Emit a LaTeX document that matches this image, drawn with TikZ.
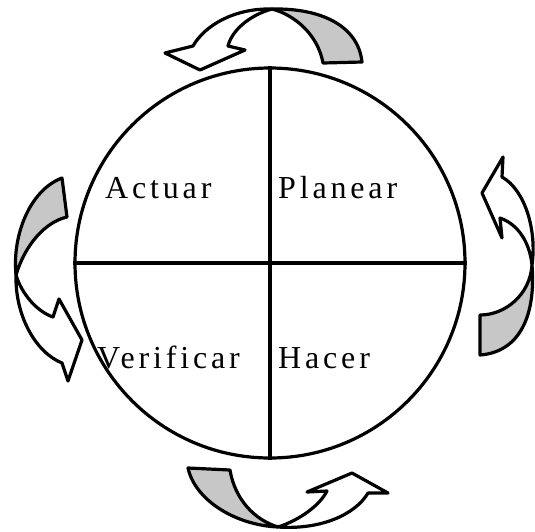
\documentclass[tikz,border=0pt]{standalone}
\usepackage{fontspec}
\setmainfont{Liberation Serif}[LetterSpace=12]
\begin{document}
\begin{tikzpicture}[x=1pt,y=-1pt,
  outl/.style={line width=3.2pt,line join=round},
  rib/.style={outl,draw=black,fill=black!22},
  wht/.style={outl,draw=black,fill=white},
  lbl/.style={anchor=base west,inner sep=0pt,font=\fontsize{32}{36}\selectfont}]
\useasboundingbox (0,0) rectangle (535,531);
% circle and quadrants
\node[outl,draw,circle,minimum size=390pt,inner sep=0pt] (c) at (270,263) {};
\draw[outl] (c.north) -- (c.south);
\draw[outl] (c.west) -- (c.east);
\node[lbl] (act) at (105,198) {Actuar};
\node[lbl] (pla) at (278,198) {Planear};
\node[lbl] (ver) at (97,368) {Verificar};
\node[lbl] (hac) at (278,368) {Hacer};
% top arrow
\draw[wht] (272,9) .. controls (235,8) and (205,25) .. (193,46) -- (165,53) -- (200,70) -- (245,50) -- (228,46) .. controls (232,30) and (250,15) .. (272,9) -- cycle;
\draw[rib] (362,62) .. controls (358,25) and (320,8) .. (272,9) .. controls (295,15) and (318,35) .. (323,63) -- cycle;
% left arrow
\draw[wht] (16,275) .. controls (22,295) and (38,312) .. (53,317) -- (59,299) -- (82,340) -- (68,381) -- (62,363) .. controls (35,352) and (15,315) .. (16,275) -- cycle;
\draw[rib] (62,178) .. controls (30,190) and (12,235) .. (16,275) .. controls (25,245) and (45,222) .. (67,217) -- cycle;
% right arrow
\draw[wht] (503,157) -- (482,193) -- (502,238) -- (500,218) .. controls (520,225) and (530,245) .. (532,265) .. controls (537,230) and (525,190) .. (502,177) -- cycle;
\draw[rib] (532,265) .. controls (530,295) and (505,315) .. (480,315) -- (480,355) .. controls (520,352) and (536,315) .. (532,265) -- cycle;
% bottom arrow
\draw[wht] (278,527) .. controls (300,520) and (320,505) .. (327,491) -- (307,492) -- (352,473) -- (388,493) -- (368,493) .. controls (355,515) and (320,530) .. (278,527) -- cycle;
\draw[rib] (188,468) .. controls (195,500) and (235,525) .. (278,527) .. controls (255,520) and (235,500) .. (230,470) -- cycle;
\end{tikzpicture}
\end{document}
